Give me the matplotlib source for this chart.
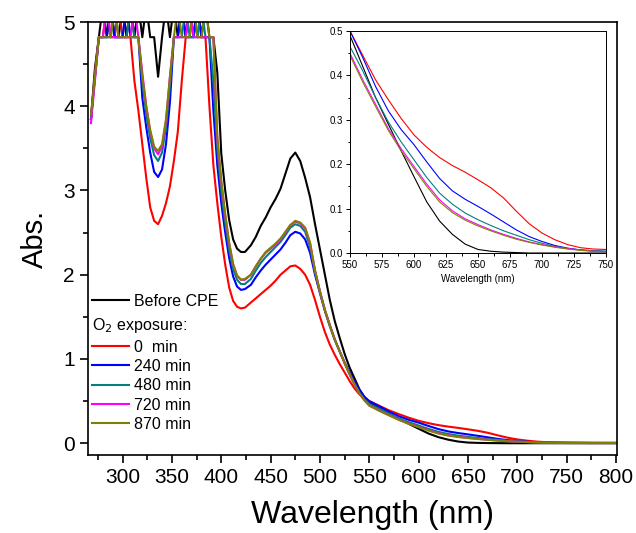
import numpy as np
import matplotlib
matplotlib.use("Agg")
import matplotlib.pyplot as plt
from matplotlib.ticker import MultipleLocator

plt.rcParams["font.family"] = ["Liberation Sans", "DejaVu Sans"]

# measurement grid (nm)
wl = np.concatenate([
    np.arange(268, 425, 4),
    np.arange(430, 551, 5),
    np.arange(560, 751, 10),
    [775, 800],
])

# absorbance (values above 5 are clipped by the axis)
abs_before = [
    3.85, 4.45, 4.82, 5.2, 4.82, 5.2, 4.82, 4.82, 5.2, 4.82, 5.2, 4.82, 5.2, 4.82,
    5.2, 4.82, 4.82, 4.35, 4.82, 5.2, 4.82, 5.2, 4.82, 5.2, 4.82, 5.2, 4.82, 5.2,
    4.82, 5.2, 4.82, 4.82, 4.4, 3.44, 3.0, 2.65, 2.42, 2.31, 2.27, 2.27,
    2.35, 2.45, 2.58, 2.68, 2.8, 2.9, 3.02, 3.2, 3.38, 3.45, 3.35, 3.15, 2.92,
    2.6, 2.3, 2.0, 1.7, 1.45, 1.25, 1.06, 0.9, 0.77, 0.64, 0.55, 0.49,
    0.42, 0.35, 0.29, 0.23, 0.172, 0.115, 0.072, 0.042, 0.02, 0.008, 0.004, 0.002,
    0.001, 0.0, 0.0, 0.0, 0.0, 0.0, 0.0, 0.0,
    0.0, 0.0,
]
abs_0 = [
    3.85, 4.4, 4.82, 4.82, 5.2, 4.82, 4.82, 5.2, 4.82, 4.82, 4.82, 4.3, 3.95, 3.55,
    3.15, 2.8, 2.64, 2.6, 2.7, 2.85, 3.05, 3.35, 3.7, 4.3, 4.82, 4.82, 5.2, 4.82,
    4.82, 4.82, 4.0, 3.3, 2.85, 2.45, 2.12, 1.85, 1.69, 1.62, 1.6, 1.61,
    1.67, 1.72, 1.77, 1.82, 1.87, 1.93, 2.0, 2.05, 2.1, 2.11, 2.07, 2.0, 1.88,
    1.7, 1.5, 1.32, 1.17, 1.05, 0.94, 0.84, 0.74, 0.65, 0.58, 0.53, 0.5,
    0.445, 0.39, 0.345, 0.303, 0.266, 0.238, 0.215, 0.197, 0.182, 0.165, 0.147,
    0.124, 0.094, 0.066, 0.045, 0.03, 0.019, 0.012, 0.009, 0.008,
    0.006, 0.005,
]
abs_240 = [
    3.85, 4.35, 4.82, 4.82, 4.82, 5.2, 4.82, 4.82, 4.82, 5.2, 4.82, 4.82, 4.82, 4.1,
    3.75, 3.45, 3.22, 3.16, 3.25, 3.55, 4.05, 4.82, 4.82, 5.2, 4.82, 4.82, 4.82, 5.2,
    4.82, 4.82, 4.82, 3.95, 3.3, 2.85, 2.5, 2.2, 1.98, 1.86, 1.82, 1.83,
    1.88, 1.97, 2.05, 2.12, 2.18, 2.24, 2.3, 2.38, 2.47, 2.51, 2.49, 2.42, 2.26,
    2.0, 1.78, 1.57, 1.39, 1.23, 1.09, 0.96, 0.84, 0.73, 0.63, 0.55, 0.5,
    0.44, 0.375, 0.32, 0.278, 0.244, 0.205, 0.168, 0.14, 0.121, 0.105, 0.088,
    0.07, 0.052, 0.037, 0.026, 0.017, 0.011, 0.007, 0.005, 0.004,
    0.003, 0.003,
]
abs_480 = [
    3.85, 4.35, 4.82, 4.82, 4.82, 4.82, 5.2, 4.82, 4.82, 4.82, 5.2, 4.82, 4.82, 4.3,
    3.9, 3.62, 3.42, 3.35, 3.45, 3.75, 4.25, 4.82, 4.82, 4.82, 5.2, 4.82, 4.82, 4.82,
    5.2, 4.82, 4.82, 4.3, 3.5, 3.0, 2.62, 2.3, 2.07, 1.94, 1.89, 1.89,
    1.95, 2.05, 2.14, 2.21, 2.27, 2.33, 2.39, 2.47, 2.56, 2.6, 2.58, 2.51, 2.33,
    2.04, 1.8, 1.58, 1.4, 1.23, 1.09, 0.95, 0.82, 0.7, 0.6, 0.52, 0.465,
    0.41, 0.35, 0.295, 0.25, 0.21, 0.17, 0.135, 0.11, 0.09, 0.075, 0.062,
    0.05, 0.04, 0.03, 0.022, 0.015, 0.01, 0.007, 0.005, 0.004,
    0.003, 0.003,
]
abs_720 = [
    3.8, 4.3, 4.82, 4.82, 5.2, 4.82, 4.82, 4.82, 4.82, 4.82, 4.82, 5.2, 4.82, 4.4,
    4.0, 3.7, 3.5, 3.43, 3.52, 3.82, 4.35, 4.82, 4.82, 4.82, 4.82, 5.2, 4.82, 4.82,
    4.82, 4.82, 4.82, 4.82, 3.6, 3.1, 2.7, 2.37, 2.12, 1.99, 1.94, 1.94,
    2.0, 2.1, 2.19, 2.26, 2.31, 2.36, 2.42, 2.5, 2.59, 2.63, 2.61, 2.55, 2.37,
    2.05, 1.8, 1.58, 1.4, 1.23, 1.09, 0.95, 0.82, 0.7, 0.59, 0.51, 0.45,
    0.39, 0.335, 0.28, 0.235, 0.195, 0.155, 0.12, 0.095, 0.077, 0.064, 0.052,
    0.042, 0.033, 0.025, 0.019, 0.014, 0.01, 0.007, 0.004, 0.003,
    0.002, 0.002,
]
abs_870 = [
    3.9, 4.35, 4.82, 4.82, 4.82, 4.82, 5.2, 4.82, 4.82, 4.82, 4.82, 4.82, 4.82, 4.35,
    4.0, 3.72, 3.52, 3.47, 3.55, 3.85, 4.35, 4.82, 5.2, 4.82, 4.82, 4.82, 5.2, 4.82,
    4.82, 5.2, 4.82, 4.82, 3.65, 3.12, 2.72, 2.38, 2.13, 1.99, 1.94, 1.95,
    2.0, 2.1, 2.19, 2.27, 2.32, 2.37, 2.43, 2.51, 2.59, 2.64, 2.62, 2.56, 2.38,
    2.05, 1.8, 1.58, 1.4, 1.23, 1.09, 0.95, 0.82, 0.7, 0.59, 0.51, 0.445,
    0.385, 0.33, 0.276, 0.23, 0.19, 0.15, 0.115, 0.091, 0.074, 0.061, 0.05,
    0.04, 0.031, 0.024, 0.018, 0.013, 0.009, 0.006, 0.004, 0.003,
    0.002, 0.002,
]

exposure_labels = ["0  min", "240 min", "480 min", "720 min", "870 min"]
exposure_series = [abs_0, abs_240, abs_480, abs_720, abs_870]
exposure_colors = ["#ff0000", "#0000ff", "#008080", "#ff00ff", "#808000"]

fig = plt.figure(figsize=(6.36, 5.33), dpi=100)
ax = fig.add_axes([0.1384, 0.1463, 0.8318, 0.8124])

l_before, = ax.plot(wl, abs_before, color="black", lw=1.5)
ex_lines = []
for y, c in zip(exposure_series, exposure_colors):
    ln, = ax.plot(wl, y, color=c, lw=1.5)
    ex_lines.append(ln)

ax.set_xlim(265, 801)
ax.set_ylim(-0.14, 5)
ax.xaxis.set_major_locator(MultipleLocator(50))
ax.xaxis.set_minor_locator(MultipleLocator(25))
ax.yaxis.set_major_locator(MultipleLocator(1))
ax.yaxis.set_minor_locator(MultipleLocator(0.5))
ax.tick_params(which="major", direction="out", length=6, width=1.2,
               labelsize=15, top=False, right=False)
ax.tick_params(which="minor", direction="out", length=3.5, width=1.2,
               top=False, right=False)
for s in ax.spines.values():
    s.set_linewidth(1.2)
ax.set_xlabel("Wavelength (nm)", fontsize=23)
ax.xaxis.set_label_coords(0.537, -0.105)
ax.set_ylabel("Abs.", fontsize=21, labelpad=10)

leg1 = ax.legend([l_before], ["Before CPE"], loc="upper left",
                 bbox_to_anchor=(0.008, 0.372), frameon=False, fontsize=11.5,
                 handlelength=2.3, handletextpad=0.3, borderpad=0,
                 borderaxespad=0)
ax.add_artist(leg1)
leg2 = ax.legend(ex_lines, exposure_labels, loc="upper left",
                 bbox_to_anchor=(0.008, 0.32), frameon=False, fontsize=11.5,
                 handlelength=2.3, handletextpad=0.3, borderpad=0,
                 borderaxespad=0, labelspacing=0.27,
                 title="O$_2$ exposure:", title_fontsize=11.5,
                 alignment="left")

# inset: 550-750 nm zoom
axin = fig.add_axes([0.5503, 0.5253, 0.4025, 0.4165])
axin.set_facecolor("white")
axin.plot(wl, abs_before, color="black", lw=0.8)
for y, c in zip(exposure_series, exposure_colors):
    axin.plot(wl, y, color=c, lw=0.8)
axin.set_xlim(550, 750)
axin.set_ylim(0, 0.5)
axin.xaxis.set_major_locator(MultipleLocator(25))
axin.xaxis.set_minor_locator(MultipleLocator(12.5))
axin.yaxis.set_major_locator(MultipleLocator(0.1))
axin.yaxis.set_minor_locator(MultipleLocator(0.05))
axin.yaxis.set_major_formatter(matplotlib.ticker.FormatStrFormatter("%.1f"))
axin.tick_params(which="major", direction="out", length=3, width=0.7,
                 labelsize=7, pad=2)
axin.tick_params(which="minor", direction="out", length=1.8, width=0.7)
for s in axin.spines.values():
    s.set_linewidth(0.7)
axin.set_xlabel("Wavelength (nm)", fontsize=7, labelpad=3)

fig.savefig("out.png", dpi=100)
